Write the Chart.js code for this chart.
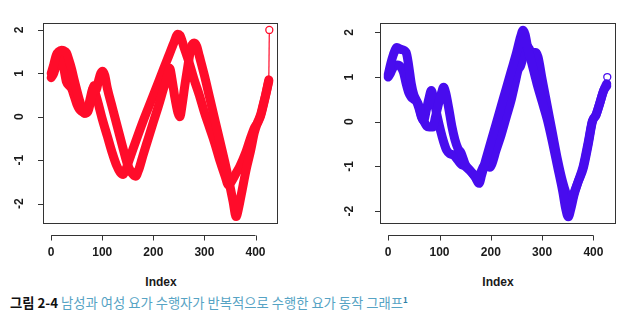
<!DOCTYPE html>
<html>
<head>
<meta charset="utf-8">
<script src="https://cdn.jsdelivr.net/npm/chart.js@4.4.1/dist/chart.umd.min.js"></script>
<style>
  html, body { margin: 0; padding: 0; background: #fff; }
  body { width: 638px; height: 332px; position: relative; overflow: hidden; }
  .panel { position: absolute; top: 0; width: 319px; height: 270px; }
  .xlab { position: absolute; top: 275px; width: 120px; text-align: center;
          font: bold 12px "Liberation Sans", Arial, sans-serif; color: #1a1a1a; }
  .cap { position: absolute; left: 10px; top: 293px; white-space: nowrap;
         font-family: "Noto Sans CJK KR", sans-serif; font-size: 13.3px; color: #56a3c4; }
  .cap b { color: #111; font-weight: 700; }
  .cap sup { font-size: 8px; color: #2d7fa6; font-weight: 700; }
</style>
</head>
<body>
<canvas id="female" class="panel" style="left:0" width="319" height="270"></canvas>
<canvas id="male" class="panel" style="left:319px" width="319" height="270"></canvas>
<div class="xlab" style="left:101px">Index</div>
<div class="xlab" style="left:438px">Index</div>
<div class="cap"><b>그림 2-4</b> 남성과 여성 요가 수행자가 반복적으로 수행한 요가 동작 그래프<sup>1</sup></div>

<script>
// Axis ticks shared by both panels
const xTicks = [0, 100, 200, 300, 400];
const yTicks = [-2, -1, 0, 1, 2];

// Red panel: two overlaid pose traces (index, value) and the trailing class label
const redIdxA = [0,5,10,15,20,25,30,35,40,45,50,55,60,66,72,78,84,88,92,97,101,105,110,120,130,140,150,158,165,172,180,190,200,210,220,228,232,236,242,248,252,256,262,268,274,280,285,290,300,310,320,330,340,350,356,362,366,372,382,390,398,405,410,415,420,426];
const redValA = [1.0,1.2,1.42,1.5,1.53,1.52,1.47,1.3,1.1,0.85,0.62,0.4,0.22,0.08,0.12,0.4,0.72,0.62,0.8,1.0,1.05,0.95,0.65,0.2,-0.25,-0.7,-1.12,-1.3,-1.37,-1.2,-0.88,-0.5,-0.12,0.25,0.65,0.95,1.12,0.9,0.45,0.1,0.0,0.25,0.75,1.2,1.6,1.7,1.62,1.4,0.95,0.45,-0.05,-0.55,-1.05,-1.6,-1.95,-2.3,-2.15,-1.8,-1.2,-0.8,-0.35,-0.1,0.05,0.28,0.52,0.85];
const redIdxB = [0,5,10,15,20,25,30,35,40,45,50,55,60,66,72,77,82,86,90,100,110,120,128,135,141,146,152,160,170,180,190,200,210,220,230,240,248,252,260,270,280,290,300,310,320,330,340,347,355,362,369,380,390,398,405,410,415,420,426];
const redValB = [0.9,1.0,1.2,1.33,1.35,1.1,0.8,0.72,0.65,0.48,0.3,0.18,0.12,0.08,0.2,0.45,0.65,0.55,0.4,-0.05,-0.45,-0.85,-1.12,-1.28,-1.33,-1.22,-1.02,-0.75,-0.42,-0.1,0.2,0.5,0.8,1.1,1.4,1.7,1.9,1.88,1.6,1.25,0.85,0.5,0.1,-0.25,-0.6,-1.0,-1.35,-1.57,-1.45,-1.3,-1.15,-0.85,-0.5,-0.25,-0.12,0.02,0.25,0.5,0.82];
const redLabel = [426, 0.84, 427, 2];

// Blue panel
const blueIdxA = [0,5,10,17,25,35,40,45,50,55,60,65,70,75,80,87,92,98,104,108,112,118,124,130,136,142,150,160,170,177,182,190,200,210,220,230,240,250,258,263,267,272,280,290,300,310,320,330,340,346,351,356,362,370,380,390,398,405,412,420,426];
const blueValA = [1.05,1.3,1.5,1.66,1.62,1.55,1.25,0.85,0.6,0.48,0.35,0.12,0.0,-0.1,-0.12,-0.12,0.1,0.4,0.65,0.77,0.65,0.3,-0.1,-0.4,-0.6,-0.7,-0.95,-1.1,-1.25,-1.38,-1.2,-0.86,-0.46,-0.06,0.34,0.74,1.14,1.54,1.9,2.05,1.95,1.65,1.3,0.85,0.45,0.05,-0.45,-1.0,-1.55,-1.95,-2.13,-1.95,-1.65,-1.35,-1.0,-0.45,0.02,0.15,0.4,0.7,0.85];
const blueIdxB = [0,5,10,18,25,30,35,40,45,50,55,60,65,69,75,80,84,88,95,102,108,114,120,128,135,142,150,160,168,174,180,186,192,198,202,210,220,230,240,248,253,258,264,268,274,280,288,292,300,310,320,330,340,350,357,362,370,380,390,398,405,412,420,426];
const blueValB = [1.0,1.1,1.22,1.27,1.22,1.1,0.85,0.65,0.55,0.5,0.45,0.3,0.1,0.03,0.3,0.55,0.7,0.55,0.15,-0.2,-0.45,-0.64,-0.72,-0.75,-0.85,-0.95,-1.0,-1.1,-1.2,-1.28,-1.15,-1.0,-0.95,-1.02,-0.95,-0.65,-0.3,0.1,0.5,0.9,1.15,1.25,1.5,1.72,1.65,1.55,1.55,1.45,0.95,0.35,-0.25,-0.85,-1.35,-1.7,-1.78,-1.6,-1.35,-1.05,-0.5,0.0,0.15,0.4,0.7,0.8];
const blueLabel = [426, 0.82, 427, 1];

const RED = 'rgb(255,12,42)';
const BLUE = 'rgb(72,12,238)';
const AXIS = '#333';

function pts(ix, vals) { return ix.map((x, i) => ({ x, y: vals[i] })); }

// R-style frame: box, detached x axis, rotated y labels
const rFrame = {
  id: 'rFrame',
  afterDraw(chart, args, opts) {
    const { ctx, chartArea: a, scales: { x, y } } = chart;
    ctx.save();
    ctx.strokeStyle = AXIS;
    ctx.lineWidth = 1;
    ctx.strokeRect(Math.round(a.left) + 0.5, Math.round(a.top) + 0.5,
                   Math.round(a.right - a.left) - 1, Math.round(a.bottom - a.top) - 1);
    ctx.beginPath();
    const ay = Math.round(a.bottom + 11) + 0.5;
    ctx.moveTo(x.getPixelForValue(xTicks[0]), ay);
    ctx.lineTo(x.getPixelForValue(xTicks[xTicks.length - 1]), ay);
    xTicks.forEach(v => {
      const px = Math.round(x.getPixelForValue(v)) + 0.5;
      ctx.moveTo(px, ay); ctx.lineTo(px, ay + 5);
    });
    yTicks.forEach(v => {
      const py = Math.round(y.getPixelForValue(v)) + 0.5;
      ctx.moveTo(a.left, py); ctx.lineTo(a.left - 5, py);
    });
    ctx.stroke();
    ctx.fillStyle = '#1a1a1a';
    ctx.font = 'bold 12px "Liberation Sans", Arial, sans-serif';
    ctx.textAlign = 'center';
    ctx.textBaseline = 'middle';
    yTicks.forEach(v => {
      ctx.save();
      ctx.translate(a.left - opts.labelGap, y.getPixelForValue(v));
      ctx.rotate(-Math.PI / 2);
      ctx.fillText(String(v), 0, 0);
      ctx.restore();
    });
    ctx.restore();
  }
};

function makePanel(id, color, seriesA, seriesB, label, yMin, yMax, boxLeft, boxRight, labelGap) {
  const band = data => ({
    data, showLine: true, borderColor: color, borderWidth: 9,
    borderJoinStyle: 'round', borderCapStyle: 'round',
    cubicInterpolationMode: 'monotone', pointRadius: 0
  });
  new Chart(document.getElementById(id), {
    type: 'scatter',
    data: {
      datasets: [
        band(seriesA),
        band(seriesB),
        {
          data: [{ x: label[0], y: label[1] }, { x: label[2], y: label[3] }],
          showLine: true, borderColor: color, borderWidth: 1.2,
          pointRadius: [0, 3.5], pointBorderWidth: 1.3,
          pointBorderColor: color, pointBackgroundColor: '#fff'
        }
      ]
    },
    options: {
      responsive: false, animation: false, devicePixelRatio: 1,
      layout: { padding: { left: 0, right: 319 - boxRight, top: 23, bottom: 0 } },
      plugins: { legend: { display: false }, tooltip: { enabled: false }, rFrame: { labelGap } },
      scales: {
        x: {
          type: 'linear', min: -16, max: 444,
          afterBuildTicks: s => { s.ticks = xTicks.map(value => ({ value })); },
          afterFit: s => { s.height = 46; s.paddingLeft = 0; s.paddingRight = 0; },
          grid: { display: false, drawTicks: false },
          border: { display: false },
          ticks: { autoSkip: false, maxRotation: 0, padding: 21, color: '#1a1a1a',
                   font: { family: '"Liberation Sans", Arial, sans-serif', size: 12, weight: 'bold' } }
        },
        y: {
          type: 'linear', min: yMin, max: yMax,
          afterBuildTicks: s => { s.ticks = yTicks.map(value => ({ value })); },
          afterFit: s => { s.width = boxLeft; s.paddingTop = 0; s.paddingBottom = 0; },
          grid: { display: false, drawTicks: false },
          border: { display: false },
          ticks: { display: false }
        }
      }
    },
    plugins: [rFrame]
  });
}

makePanel('female', RED, pts(redIdxA, redValA), pts(redIdxB, redValB), redLabel, -2.47, 2.16, 43, 278, 23);
makePanel('male', BLUE, pts(blueIdxA, blueValA), pts(blueIdxB, blueValB), blueLabel, -2.29, 2.21, 61, 297, 30);
</script>
</body>
</html>
